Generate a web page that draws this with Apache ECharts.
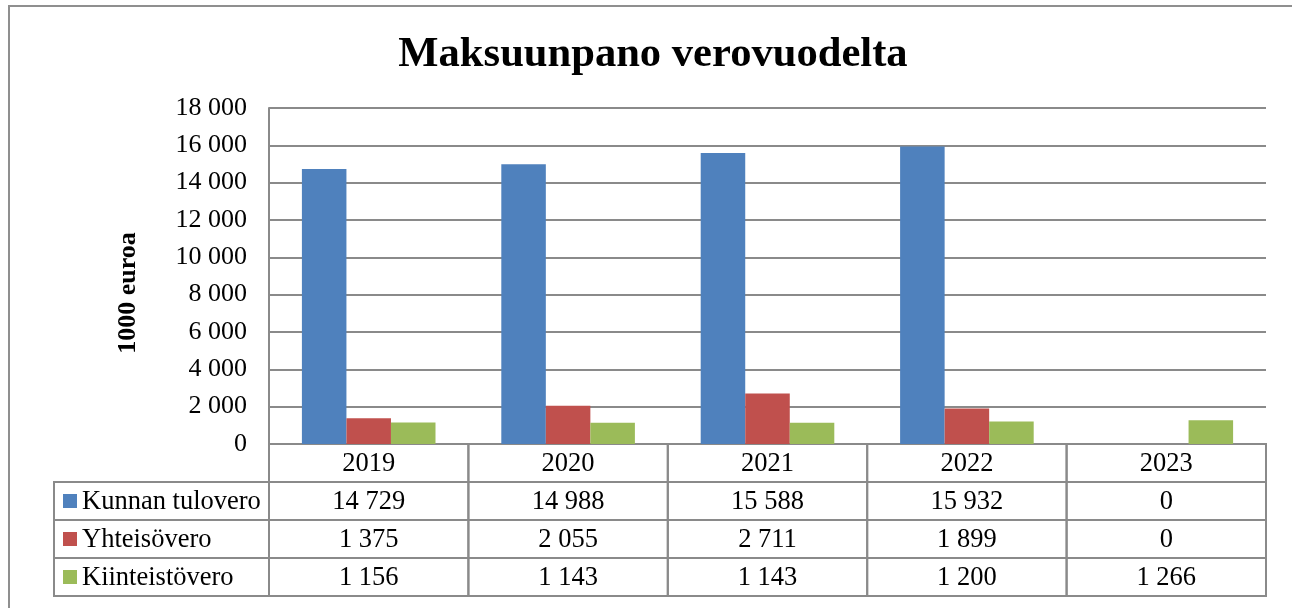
<!DOCTYPE html>
<html>
<head>
<meta charset="utf-8">
<script src="https://cdn.jsdelivr.net/npm/echarts@6/dist/echarts.min.js"></script>
<style>
  html, body { margin: 0; padding: 0; background: #fff; }
  #main { width: 1292px; height: 608px; }
</style>
</head>
<body>
<div id="main"></div>
<script>
// chart data
const years = ['2019', '2020', '2021', '2022', '2023'];
const seriesNames = ['Kunnan tulovero', 'Yhteisövero', 'Kiinteistövero'];
const kunnanTulovero = [14729, 14988, 15588, 15932, 0];
const yhteisovero = [1375, 2055, 2711, 1899, 0];
const kiinteistovero = [1156, 1143, 1143, 1200, 1266];
const colors = ['#4F81BD', '#C0504D', '#9BBB59'];

const FONT = '"Liberation Serif", "Times New Roman", serif';
const LINE = '#8a8a8a';
const gridLeft = 269, gridRight = 26, gridTop = 108, gridBottom = 164;
const rowH = 38;
const tableLeft = 54;

function fmt(v) {
	return String(v).replace(/\B(?=(\d{3})+(?!\d))/g, ' ');
}

let chart = echarts.init(document.getElementById('main'));
let values = [kunnanTulovero, yhteisovero, kiinteistovero];

let option = {
	animation: false,
	title: {
		text: 'Maksuunpano verovuodelta',
		left: 648,
		textAlign: 'center',
		top: 28,
		textStyle: { fontFamily: FONT, fontSize: 42.6, fontWeight: 'bold', color: '#000' }
	},
	grid: { left: gridLeft, right: gridRight, top: gridTop, bottom: gridBottom, containLabel: false },
	xAxis: {
		type: 'category',
		data: years,
		axisLine: { show: false },
		axisTick: { show: false },
		axisLabel: { show: false }
	},
	yAxis: {
		type: 'value',
		min: 0,
		max: 18000,
		interval: 2000,
		axisLine: { show: true, lineStyle: { color: LINE, width: 2 } },
		axisTick: { show: false },
		axisLabel: {
			margin: 22,
			fontFamily: FONT,
			fontSize: 26,
			color: '#000',
			formatter: fmt
		},
		splitLine: { show: true, lineStyle: { color: LINE, width: 2 } }
	},
	series: seriesNames.map(function(name, i) {
		return {
			name: name,
			type: 'bar',
			data: values[i],
			barGap: 0,
			barCategoryGap: '33%',
			itemStyle: { color: colors[i] }
		};
	})
};
chart.setOption(option);

// data table under the plot + outer border + axis name
let g = [];
g.push({
	type: 'rect',
	shape: { x: 9, y: 6, width: 1320, height: 640 },
	style: { fill: null, stroke: '#8f8f8f', lineWidth: 2 },
	silent: true
});
g.push({
	type: 'text',
	x: 128, y: 293,
	rotation: Math.PI / 2,
	style: {
		text: '1000 euroa',
		font: 'bold 26px ' + FONT,
		fill: '#000',
		align: 'center',
		verticalAlign: 'middle'
	}
});

let plotRight = 1292 - gridRight;
let colW = (plotRight - gridLeft) / years.length;
let top0 = chart.convertToPixel({ yAxisIndex: 0 }, 0);

function cell(x, y, w, h) {
	g.push({
		type: 'rect',
		shape: { x: x, y: y, width: w, height: h },
		style: { fill: null, stroke: LINE, lineWidth: 2 },
		silent: true
	});
}
function txt(x, y, s, align) {
	g.push({
		type: 'text',
		x: x, y: y,
		style: { text: s, font: '26.5px ' + FONT, fill: '#000', align: align || 'center', verticalAlign: 'middle' },
		silent: true
	});
}

years.forEach(function(yr, j) {
	let cx = chart.convertToPixel({ xAxisIndex: 0 }, yr);
	let x0 = gridLeft + j * colW;
	cell(x0, top0, colW, rowH);
	txt(cx, top0 + rowH / 2 + 1, yr);
	seriesNames.forEach(function(name, i) {
		let y0 = top0 + rowH * (i + 1);
		cell(x0, y0, colW, rowH);
		txt(cx, y0 + rowH / 2 + 1, fmt(values[i][j]));
	});
});
seriesNames.forEach(function(name, i) {
	let y0 = top0 + rowH * (i + 1);
	cell(tableLeft, y0, gridLeft - tableLeft, rowH);
	g.push({
		type: 'rect',
		shape: { x: 63, y: y0 + 12, width: 14, height: 14 },
		style: { fill: colors[i] },
		silent: true
	});
	txt(82, y0 + rowH / 2 + 1, name, 'left');
});

chart.setOption({ graphic: g });
</script>
</body>
</html>
